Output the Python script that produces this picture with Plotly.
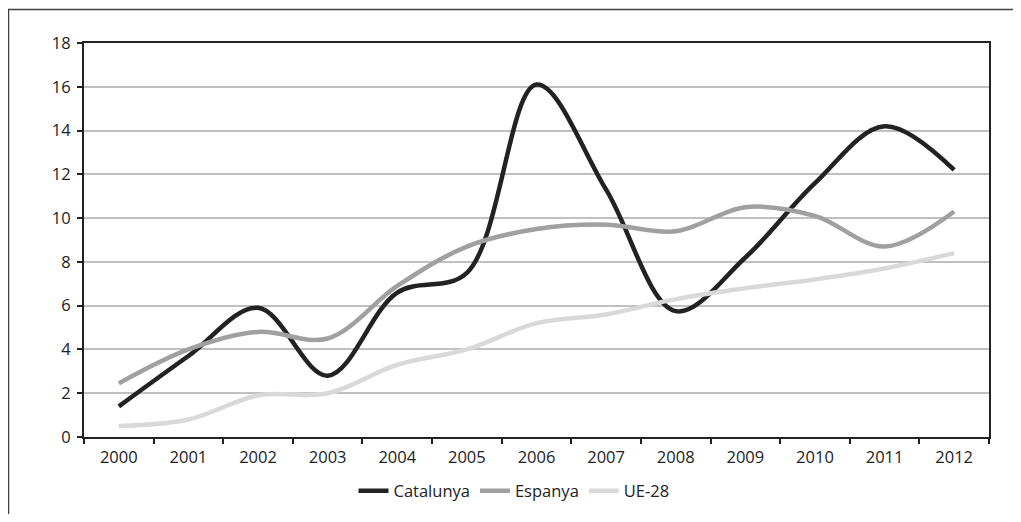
import plotly.graph_objects as go

years = ["2000", "2001", "2002", "2003", "2004", "2005", "2006", "2007", "2008", "2009", "2010", "2011", "2012"]
catalunya = [1.4, 3.7, 5.9, 2.8, 6.6, 7.5, 16.1, 11.3, 5.75, 8.2, 11.6, 14.2, 12.2]
espanya = [2.45, 4.0, 4.8, 4.5, 6.9, 8.7, 9.5, 9.7, 9.4, 10.5, 10.1, 8.7, 10.3]
ue28 = [0.5, 0.8, 1.9, 2.0, 3.3, 4.0, 5.2, 5.6, 6.3, 6.8, 7.2, 7.7, 8.4]
y_ticks = [0, 2, 4, 6, 8, 10, 12, 14, 16, 18]

series = [("Catalunya", catalunya, "#222222"),
          ("Espanya", espanya, "#a0a0a0"),
          ("UE-28", ue28, "#d9d9d9")]

fig = go.Figure()
for name, vals, col in series:
    fig.add_trace(go.Scatter(x=years, y=vals, name=name, mode="lines",
                             line=dict(color=col, width=4.5, shape="spline", smoothing=1.0)))

# page body has an 8px margin; figure placed at (8, 8) on screen
OFF = 8
W, H = 1021 - 2 * OFF, 522 - 2 * OFF
PL, PR, PT, PB = 84, 989, 43, 437  # plot area in screen pixels
L, R, T, B = PL - OFF, (W + OFF) - PR, PT - OFF, (H + OFF) - PB
pw, ph = PR - PL, PB - PT

def px(x):
    return (x - PL) / pw

def py(y):
    return (PB - y) / ph

fig.update_layout(
    width=W, height=H,
    margin=dict(l=L, r=R, t=T, b=B, pad=0, autoexpand=False),
    paper_bgcolor="white", plot_bgcolor="white",
    font=dict(family="Open Sans", size=16.5, color="#222222"),
    showlegend=True,
    legend=dict(orientation="h", x=px(514), xanchor="center", y=py(491), yanchor="middle",
                font=dict(size=16.5), tracegroupgap=0),
    xaxis=dict(type="category", tickson="boundaries", ticks="outside", ticklen=5,
               tickcolor="#222222", tickwidth=1.5, ticklabelstandoff=4,
               showline=True, linecolor="#222222", linewidth=2, mirror=True,
               showgrid=False, range=[-0.5, 12.5]),
    yaxis=dict(range=[0, 18], tickvals=y_ticks, ticks="outside", ticklen=5,
               tickcolor="#222222", tickwidth=1.5, ticklabelstandoff=3,
               showline=True, linecolor="#222222", linewidth=2, mirror=True,
               showgrid=True, gridcolor="#c0c0c0", gridwidth=1.5, zeroline=False),
    shapes=[dict(type="rect", xref="paper", yref="paper",
                 x0=px(8.5), x1=px(1040), y0=py(9.5), y1=py(540),
                 line=dict(color="#404040", width=1.5), fillcolor="rgba(0,0,0,0)",
                 layer="below")],
)

fig.write_html("out.html")
